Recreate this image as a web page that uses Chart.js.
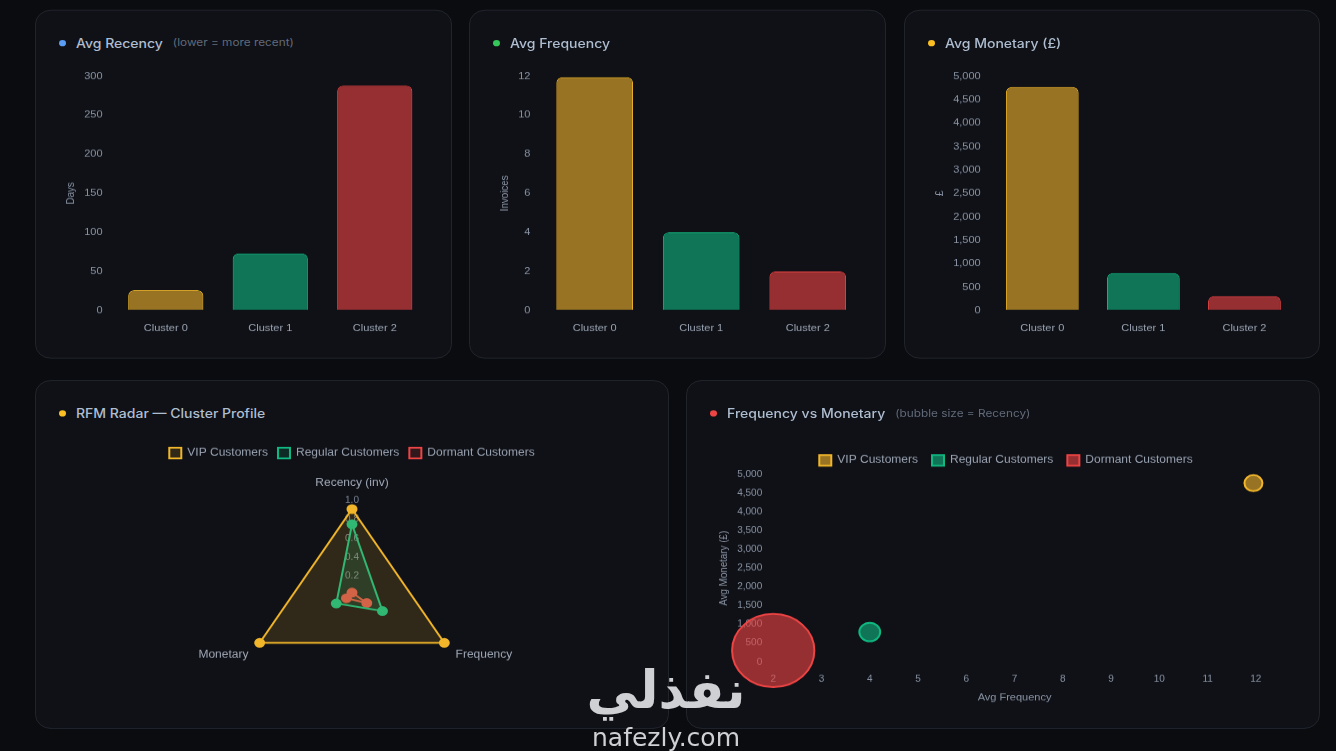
<!DOCTYPE html>
<html lang="en">
  <head>
    <meta charset="UTF-8" />
    <meta name="viewport" content="width=device-width, initial-scale=1.0" />
    <title>RFM Cluster Dashboard</title>
    <script src="https://cdn.jsdelivr.net/npm/chart.js"></script>
    <style>
      body {
        margin: 0;
        width: 1336px;
        height: 751px;
        overflow: hidden;
        background-color: #0b0c10;
        font-family: Inter, "Noto Sans", sans-serif;
        position: relative;
      }

      /* the shot is a bit squashed vertically, so the whole board is too */
      .page {
        position: absolute;
        left: 0;
        top: 0;
        width: 1336px;
        height: 844px;
        transform: scaleY(0.89);
        transform-origin: 0 0;
      }

      .card {
        position: absolute;
        box-sizing: border-box;
        background: #0f1117;
        border: 1px solid #23262e;
        border-radius: 16px;
        height: 392px;
      }

      .card-head {
        position: absolute;
        left: 23px;
        top: 24px;
        height: 24px;
        display: flex;
        align-items: center;
        white-space: nowrap;
      }

      .dot {
        width: 7px;
        height: 7px;
        border-radius: 50%;
        margin-right: 10px;
      }

      .title {
        font-size: 14px;
        font-weight: 500;
        color: #aebdd0;
      }

      .sub {
        font-size: 11.8px;
        color: #626b7a;
        margin-left: 10px;
      }

      .chart-box {
        position: absolute;
        left: 24px;
        right: 24px;
        top: 64px;
        height: 306px;
      }

      .watermark {
        position: absolute;
        left: 560px;
        top: 660px;
        width: 212px;
        text-align: center;
        color: #cfd0d3;
        z-index: 5;
      }

      .watermark .ar {
        font-family: "DejaVu Sans", sans-serif;
        font-weight: bold;
        font-size: 52px;
        line-height: 60px;
      }

      .watermark .en {
        font-family: "DejaVu Sans", sans-serif;
        font-size: 25px;
        line-height: 28px;
        margin-top: 4px;
      }
    </style>
  </head>
  <body>
    <div class="page">
      <div class="card" style="left: 35px; top: 11px; width: 417px">
        <div class="card-head">
          <span class="dot" style="background: #5b9cf5"></span>
          <span class="title">Avg Recency</span>
          <span class="sub">(lower = more recent)</span>
        </div>
        <div class="chart-box"><canvas id="recencyChart"></canvas></div>
      </div>

      <div class="card" style="left: 469px; top: 11px; width: 417px">
        <div class="card-head">
          <span class="dot" style="background: #34c759"></span>
          <span class="title">Avg Frequency</span>
        </div>
        <div class="chart-box"><canvas id="frequencyChart"></canvas></div>
      </div>

      <div class="card" style="left: 904px; top: 11px; width: 416px">
        <div class="card-head">
          <span class="dot" style="background: #fbbf24"></span>
          <span class="title">Avg Monetary (£)</span>
        </div>
        <div class="chart-box"><canvas id="monetaryChart"></canvas></div>
      </div>

      <div class="card" style="left: 35px; top: 427px; width: 634px">
        <div class="card-head">
          <span class="dot" style="background: #fbbf24"></span>
          <span class="title">RFM Radar — Cluster Profile</span>
        </div>
        <div class="chart-box" style="top: 65px; height: 300px">
          <canvas id="radarChart"></canvas>
        </div>
      </div>

      <div class="card" style="left: 686px; top: 427px; width: 634px">
        <div class="card-head">
          <span class="dot" style="background: #ef4444"></span>
          <span class="title">Frequency vs Monetary</span>
          <span class="sub">(bubble size = Recency)</span>
        </div>
        <div class="chart-box" style="top: 62px; height: 305px; left: 26px; right: 20px">
          <canvas id="bubbleChart"></canvas>
        </div>
      </div>
    </div>

    <div class="watermark">
      <div class="ar">نفذلي</div>
      <div class="en">nafezly.com</div>
    </div>

    <script>
      // data
      const clusters = ["Cluster 0", "Cluster 1", "Cluster 2"];
      const segments = ["VIP Customers", "Regular Customers", "Dormant Customers"];
      const avgRecency = [26, 73, 288];
      const avgFrequency = [11.95, 4.0, 2.0];
      const avgMonetary = [4770, 800, 305];

      const radarAxes = ["Recency (inv)", "Frequency", "Monetary"];
      const radarVip = [0.91, 1.0, 1.0];
      const radarRegular = [0.75, 0.33, 0.17];
      const radarDormant = [0.03, 0.16, 0.06];

      const clusterColors = ["#f2b62b", "#10b981", "#ef4444"];
      const gridColor = "rgba(255, 255, 255, 0)";

      Chart.defaults.font.family = "Arial, 'Liberation Sans', sans-serif";
      Chart.defaults.color = "#8b95a5";
      Chart.defaults.animation = false;

      function withAlpha(hex, a) {
        const n = parseInt(hex.slice(1), 16);
        return `rgba(${(n >> 16) & 255}, ${(n >> 8) & 255}, ${n & 255}, ${a})`;
      }

      function barChart(id, values, yTitle) {
        new Chart(document.getElementById(id), {
          type: "bar",
          data: {
            labels: clusters,
            datasets: [
              {
                data: values,
                backgroundColor: clusterColors.map((c) => withAlpha(c, 0.6)),
                borderColor: clusterColors,
                borderWidth: 1,
                borderRadius: 6,
              },
            ],
          },
          options: {
            responsive: true,
            maintainAspectRatio: false,
            plugins: { legend: { display: false }, tooltip: { enabled: false } },
            scales: {
              x: {
                grid: { color: gridColor },
                border: { display: false },
                ticks: { color: "#9ba4b2", font: { size: 11 }, padding: 6 },
              },
              y: {
                beginAtZero: true,
                grid: { color: gridColor },
                border: { display: false },
                ticks: { font: { size: 11 } },
                title: { display: true, text: yTitle, font: { size: 11 } },
              },
            },
          },
        });
      }

      barChart("recencyChart", avgRecency, "Days");
      barChart("frequencyChart", avgFrequency, "Invoices");
      barChart("monetaryChart", avgMonetary, "£");

      // Radar - normalised RFM profile per segment
      const radarSets = [radarVip, radarRegular, radarDormant];
      new Chart(document.getElementById("radarChart"), {
        type: "radar",
        data: {
          labels: radarAxes,
          datasets: radarSets.map((vals, i) => ({
            label: segments[i],
            data: vals,
            fill: true,
            borderColor: clusterColors[i],
            backgroundColor: withAlpha(clusterColors[i], 0.15),
            pointBackgroundColor: clusterColors[i],
            pointBorderColor: clusterColors[i],
            borderWidth: 2,
            pointRadius: 4.5,
          })),
        },
        options: {
          responsive: true,
          maintainAspectRatio: false,
          plugins: {
            tooltip: { enabled: false },
            legend: {
              labels: {
                color: "#9aa3b1",
                boxWidth: 12,
                boxHeight: 12,
                font: { size: 12 },
              },
            },
          },
          scales: {
            r: {
              min: 0,
              max: 1,
              ticks: {
                stepSize: 0.2,
                showLabelBackdrop: false,
                color: "#7a8393",
                font: { size: 10 },
              },
              grid: { color: gridColor },
              angleLines: { color: gridColor },
              pointLabels: { color: "#a1a9b6", font: { size: 12 }, padding: 6 },
            },
          },
        },
      });

      // Bubble - frequency vs monetary, radius from recency
      new Chart(document.getElementById("bubbleChart"), {
        type: "bubble",
        data: {
          datasets: segments.map((s, i) => ({
            label: s,
            data: [
              {
                x: avgFrequency[i],
                y: avgMonetary[i],
                r: Math.max(9, avgRecency[i] / 7),
              },
            ],
            backgroundColor: withAlpha(clusterColors[i], 0.6),
            borderColor: clusterColors[i],
            borderWidth: 2,
          })),
        },
        options: {
          responsive: true,
          maintainAspectRatio: false,
          plugins: {
            tooltip: { enabled: false },
            legend: {
              labels: {
                color: "#9aa3b1",
                boxWidth: 12,
                boxHeight: 12,
                padding: 14,
                font: { size: 12 },
              },
            },
          },
          scales: {
            x: {
              grid: { color: gridColor },
              border: { display: false },
              ticks: { font: { size: 10 }, padding: 5 },
              title: { display: true, text: "Avg Frequency", font: { size: 11 } },
            },
            y: {
              beginAtZero: true,
              grid: { color: gridColor },
              border: { display: false },
              ticks: { font: { size: 10 } },
              title: { display: true, text: "Avg Monetary (£)", font: { size: 11 } },
            },
          },
        },
      });
    </script>
  </body>
</html>
